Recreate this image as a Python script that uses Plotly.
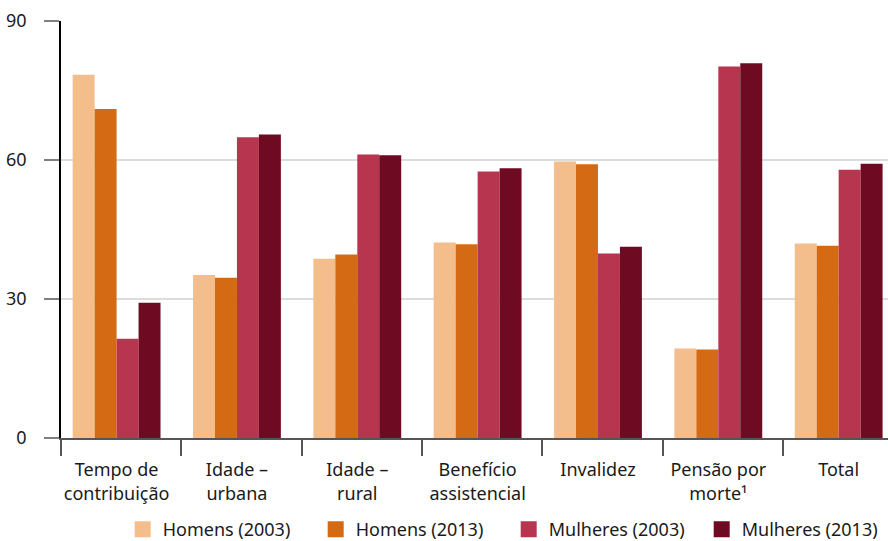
import plotly.graph_objects as go

categories = ["Tempo de<br>contribuição", "Idade –<br>urbana", "Idade –<br>rural",
              "Benefício<br>assistencial", "Invalidez", "Pensão por<br>morte¹", "Total"]
series_names = ["Homens (2003)", "Homens (2013)", "Mulheres (2003)", "Mulheres (2013)"]
homens_2003 = [78.4, 35.2, 38.7, 42.2, 59.7, 19.3, 42.0]
homens_2013 = [71.0, 34.6, 39.6, 41.8, 59.1, 19.1, 41.5]
mulheres_2003 = [21.4, 64.9, 61.2, 57.5, 39.8, 80.2, 57.9]
mulheres_2013 = [29.2, 65.5, 61.0, 58.2, 41.3, 80.9, 59.2]
y_ticks = [0, 30, 60, 90]

colors = ["#F4BE8C", "#D46B14", "#B83550", "#6E0A22"]
FONT = "Noto Sans"

x = list(range(len(categories)))
fig = go.Figure()
for name, vals, col in zip(series_names, [homens_2003, homens_2013, mulheres_2003, mulheres_2013], colors):
    fig.add_trace(go.Bar(x=x, y=vals, name=name, legendgroup=name, showlegend=False,
                         marker=dict(color=col, line=dict(width=0))))
# legend entries with 16px square swatches
for name, col in zip(series_names, colors):
    fig.add_trace(go.Scatter(x=[None], y=[None], mode="markers", name=name, legendgroup=name,
                             marker=dict(symbol="square", size=16, color=col), hoverinfo="skip"))

fig.update_layout(
    width=888, height=541,
    margin=dict(l=61, r=0, t=21, b=103, autoexpand=False),
    paper_bgcolor="white", plot_bgcolor="white",
    barmode="group", bargap=0.27, bargroupgap=0,
    font=dict(family=FONT, size=18, color="#1a1a1a"),
    showlegend=True,
    legend=dict(orientation="h", x=0.0746, xanchor="left", y=-0.264, yanchor="bottom",
                font=dict(size=18), itemwidth=30, traceorder="normal",
                entrywidth=148, entrywidthmode="pixels"),
)
fig.update_xaxes(
    range=[-0.462, 6.41],
    tickmode="array", tickvals=x, ticktext=categories,
    ticks="outside", ticklen=15, tickcolor="rgba(0,0,0,0)",
    showline=True, linecolor="#555555", linewidth=1.5,
    showgrid=False, zeroline=False,
    minor=dict(tickmode="array", tickvals=[i - 0.461 for i in x], ticks="outside",
               ticklen=16, tickwidth=1.5, tickcolor="#555555", showgrid=False),
)
fig.update_yaxes(
    range=[0, 90], tickmode="array", tickvals=y_ticks,
    ticks="outside", ticklen=15, tickwidth=1.5, tickcolor="#808080",
    showline=True, linecolor="#000000", linewidth=1.5,
    showgrid=True, gridcolor="#dcdcdc", gridwidth=1.5, zeroline=False,
    ticklabelstandoff=14, tickfont=dict(size=18),
)
fig.write_html("out.html")
